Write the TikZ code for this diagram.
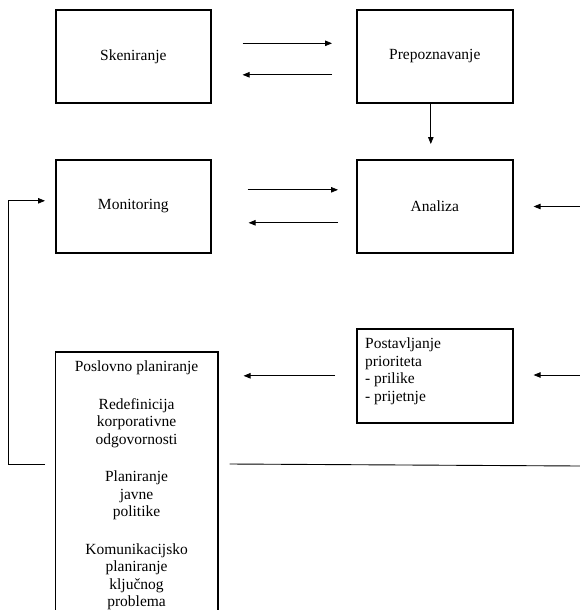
\documentclass[tikz,border=0pt]{standalone}
\usepackage{fontspec}
\setmainfont{Liberation Serif}
\usetikzlibrary{arrows.meta,calc}
\begin{document}
\begin{tikzpicture}[x=1pt,y=1pt,
  every node/.style={font=\fontsize{15.5}{17.5}\selectfont},
  box/.style={draw, line width=1.6pt, minimum width=156pt, minimum height=93pt, inner sep=0pt, anchor=north west},
  arr/.style={line width=0.8pt, -{Triangle[length=7pt,width=5.5pt]}},
  ln/.style={line width=0.9pt}]
\useasboundingbox (0,0) rectangle (580,-610);
\clip (0,0) rectangle (580,-610);
% boxes
\node[box, minimum width=155pt] (sken) at (55,-9) {Skeniranje};
\node[box] (prep) at (356,-9) {Prepoznavanje};
\node[box, minimum width=155pt] (mon) at (55,-159) {Monitoring};
\node[box] (ana) at (356,-159) {Analiza};
\node[box, minimum height=94pt] (post) at (356,-328) {};
\node[anchor=north west, align=left, inner sep=0pt] (posttxt) at ([xshift=9pt,yshift=-10pt]post.north west)
  {Postavljanje\\prioriteta\\- prilike\\- prijetnje};
\node[box, minimum width=162.5pt, minimum height=300pt] (posl) at (54.5,-351) {};
\node[anchor=north, align=center, inner sep=0pt] (posltxt) at ([yshift=-10pt]posl.north)
  {Poslovno planiranje\\[20pt]Redefinicija\\korporativne\\odgovornosti\\[20pt]Planiranje\\javne\\politike\\[20pt]Komunikacijsko\\planiranje\\ključnog\\problema};
% top row arrows
\draw[arr, shorten <=31pt, shorten >=24pt] ([yshift=13pt]sken.east) -- ([yshift=13pt]prep.west);
\draw[arr, shorten <=24pt, shorten >=31pt] ([yshift=-18.5pt]prep.west) -- ([yshift=-18.5pt]sken.east);
\draw[arr, shorten >=15pt] ([xshift=-4pt]prep.south) -- ([xshift=-4pt]ana.north);
% second row arrows
\draw[arr, shorten <=36pt, shorten >=18pt] ([yshift=16.5pt]mon.east) -- ([yshift=16.5pt]ana.west);
\draw[arr, shorten <=18pt, shorten >=37pt] ([yshift=-16.5pt]ana.west) -- ([yshift=-16.5pt]mon.east);
\coordinate (inA) at (580,-206.5);
\draw[arr, shorten >=20pt] (inA) -- (inA -| ana.east);
% third row
\draw[arr, shorten <=21pt, shorten >=25pt] (post.west) -- (post.west -| posl.east);
\coordinate (inP) at (580,-375);
\draw[arr, shorten >=20pt] (inP) -- (inP -| post.east);
% feedback
\coordinate (fb) at (45,-464);
\draw[arr] (fb) -- (8,-464) |- ([xshift=-10pt,yshift=5.5pt]mon.west);
\coordinate (lineEnd) at (580,-466);
\draw[ln] ([xshift=11pt]posl.east |- 0,-464) -- (lineEnd);
\end{tikzpicture}
\end{document}
